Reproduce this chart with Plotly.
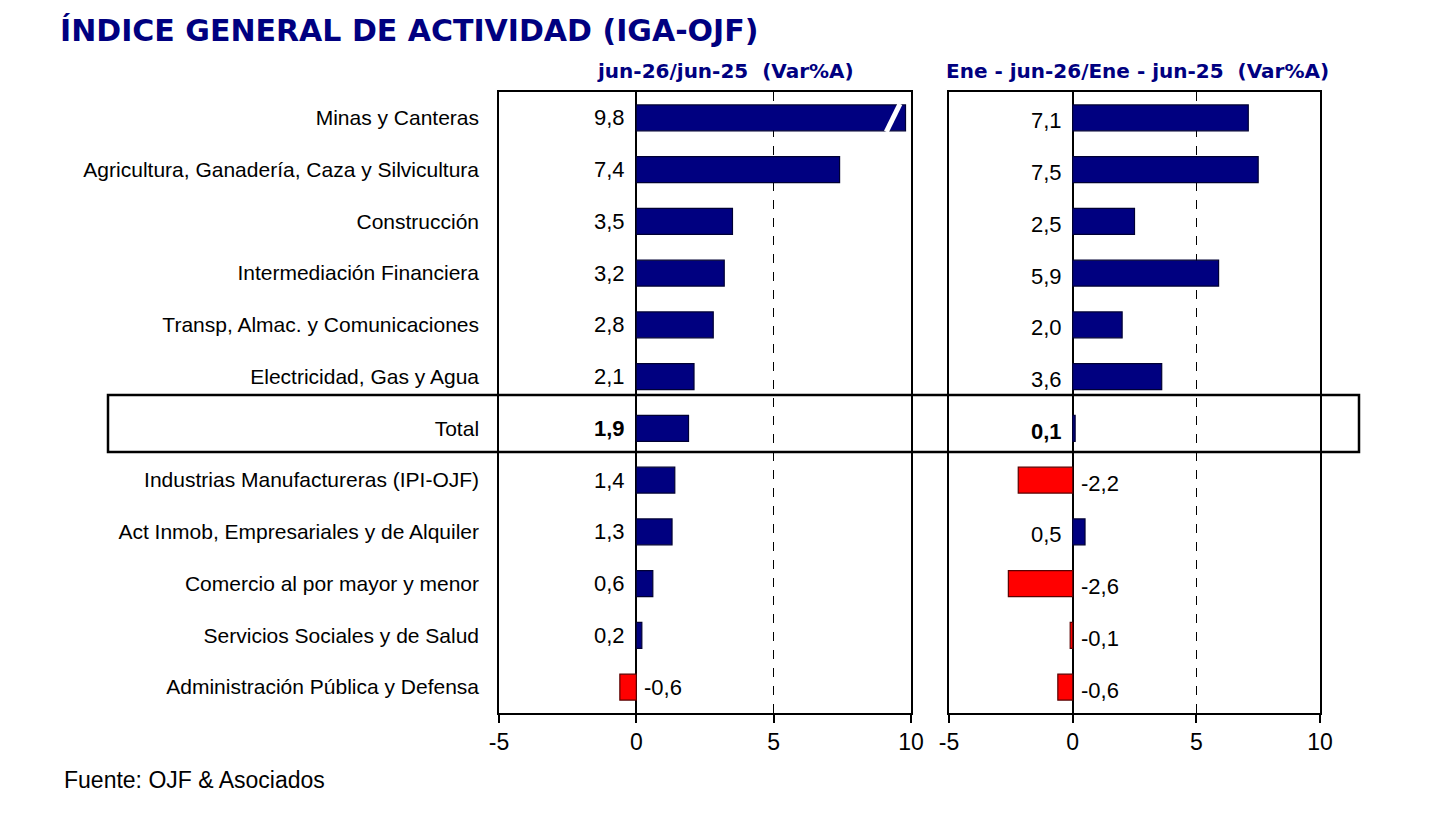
import plotly.graph_objects as go

# Sectores (de arriba hacia abajo)
sectores = ["Minas y Canteras",
            "Agricultura, Ganadería, Caza y Silvicultura",
            "Construcción",
            "Intermediación Financiera",
            "Transp, Almac. y Comunicaciones",
            "Electricidad, Gas y Agua",
            "Total",
            "Industrias Manufactureras (IPI-OJF)",
            "Act Inmob, Empresariales y de Alquiler",
            "Comercio al por mayor y menor",
            "Servicios Sociales y de Salud",
            "Administración Pública y Defensa"]

# Var% jun-26/jun-25
var_mes = [9.8, 7.4, 3.5, 3.2, 2.8, 2.1, 1.9, 1.4, 1.3, 0.6, 0.2, -0.6]
# Var% Ene-jun-26/Ene-jun-25
var_acum = [7.1, 7.5, 2.5, 5.9, 2.0, 3.6, 0.1, -2.2, 0.5, -2.6, -0.1, -0.6]

x_ticks = [-5, 0, 5, 10]
x_ticktext = ["-5", "0", "5", "10"]

titulo = "ÍNDICE GENERAL DE ACTIVIDAD (IGA-OJF)"
sub_mes = "jun-26/jun-25  (Var%A)"
sub_acum = "Ene - jun-26/Ene - jun-25  (Var%A)"
fuente = "Fuente: OJF & Asociados"

W, H = 1440, 840
OFF = 8  # margen del body en la página
AZUL = "#000080"
ROJO = "#FF0000"
FONT = "Liberation Sans"


def px_x(p):
    return (p - OFF) / W


def px_y(p):
    return 1 - (p - OFF) / H


def colores(vals):
    return [ROJO if v < 0 else AZUL for v in vals]


def bordes(vals):
    return ["#5a0000" if v < 0 else "#000033" for v in vals]


fig = go.Figure()

for vals, xa, ya in [(var_mes, "x", "y"), (var_acum, "x2", "y2")]:
    fig.add_trace(go.Bar(
        x=vals, y=sectores, orientation="h", width=0.5,
        marker=dict(color=colores(vals),
                    line=dict(color=bordes(vals), width=1.2)),
        xaxis=xa, yaxis=ya, showlegend=False, hoverinfo="x+y"))

# marca de corte en la barra de Minas (eje numérico superpuesto)
v0 = var_mes[0]
fig.add_trace(go.Scatter(
    x=[v0 - 0.7, v0 - 0.2], y=[0.27, -0.27], mode="lines",
    line=dict(color="white", width=5), xaxis="x", yaxis="y3",
    showlegend=False, hoverinfo="skip"))

# etiquetas de valores
annotations = []
for vals, xa, ya, dy in [(var_mes, "x", "y", 0), (var_acum, "x2", "y2", -3)]:
    for s, v in zip(sectores, vals):
        txt = f"{v:.1f}".replace(".", ",")
        if s == "Total":
            txt = "<b>" + txt + "</b>"
        annotations.append(dict(
            x=0, y=s, xref=xa, yref=ya, text=txt, showarrow=False,
            xanchor="left" if v < 0 else "right",
            xshift=6 if v < 0 else -9, yshift=dy,
            font=dict(family=FONT, size=22, color="black")))

annotations += [
    dict(x=px_x(58), y=px_y(30), xref="paper", yref="paper", text="<b>" + titulo + "</b>",
         showarrow=False, xanchor="left", yanchor="middle",
         font=dict(family="DejaVu Sans", size=30, color=AZUL)),
    dict(x=px_x(725), y=px_y(71), xref="paper", yref="paper", text="<b>" + sub_mes + "</b>",
         showarrow=False, xanchor="center", yanchor="middle",
         font=dict(family="DejaVu Sans", size=20, color=AZUL)),
    dict(x=px_x(1137), y=px_y(71), xref="paper", yref="paper", text="<b>" + sub_acum + "</b>",
         showarrow=False, xanchor="center", yanchor="middle",
         font=dict(family="DejaVu Sans", size=20, color=AZUL)),
    dict(x=px_x(62), y=px_y(780), xref="paper", yref="paper", text=fuente,
         showarrow=False, xanchor="left", yanchor="middle",
         font=dict(family=FONT, size=23, color="black")),
]

ejex = dict(range=[-5, 10], tickvals=x_ticks, ticktext=x_ticktext,
            ticks="outside", ticklen=8, tickcolor="black", tickwidth=1.5,
            tickfont=dict(family=FONT, size=23, color="black"),
            showgrid=True, gridcolor="black", griddash="dash", gridwidth=1,
            zeroline=True, zerolinecolor="black", zerolinewidth=1.5,
            showline=True, linecolor="black", linewidth=1.5, mirror=True,
            fixedrange=True)

dom_y = [px_y(713), px_y(92)]
ejey = dict(type="category", categoryorder="array", categoryarray=sectores,
            autorange="reversed", domain=dom_y,
            showgrid=False, zeroline=False, ticks="", fixedrange=True,
            showline=True, linecolor="black", linewidth=1.5, mirror=True)

fig.update_layout(
    width=W, height=H,
    margin=dict(l=0, r=0, t=0, b=0, autoexpand=False),
    paper_bgcolor="white", plot_bgcolor="white",
    xaxis=dict(ejex, domain=[px_x(499), px_x(911)], anchor="y"),
    xaxis2=dict(ejex, domain=[px_x(949), px_x(1320)], anchor="y2"),
    yaxis=dict(ejey, anchor="x", showticklabels=True, ticklabelstandoff=14,
               tickfont=dict(family=FONT, size=21, color="black")),
    yaxis2=dict(ejey, anchor="x2", showticklabels=False),
    yaxis3=dict(overlaying="y", anchor="x", range=[len(sectores) - 0.5, -0.5],
                visible=False, fixedrange=True),
    annotations=annotations,
    shapes=[dict(type="rect", xref="paper", yref="paper",
                 x0=px_x(108), x1=px_x(1359), y0=px_y(452), y1=px_y(395),
                 line=dict(color="black", width=2.5), layer="above")],
)

fig.write_html("out.html")
